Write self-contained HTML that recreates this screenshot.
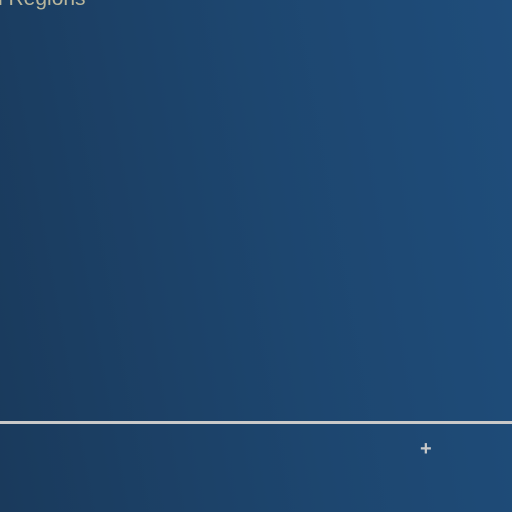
<!DOCTYPE html>
<html><head><meta charset="utf-8"><style>
html,body{margin:0;padding:0;width:512px;height:512px;overflow:hidden}
#bg{position:absolute;left:0;top:0;width:512px;height:512px;background:linear-gradient(80deg,#1a3a5c 0%,#1d466f 55%,#1f4d7b 100%)}
#title{position:absolute;left:-9px;top:-13px;font:21px "Liberation Sans",sans-serif;color:#b9b69c;white-space:nowrap}
#axis{position:absolute;left:0;top:421px;width:512px;height:3px;background:#c9c9c9}
#plus{position:absolute;left:420px;top:438px;font:bold 20px "Liberation Sans",sans-serif;color:#c9c9c9}
</style></head><body>
<div id="bg"></div>
<div id="title">n Regions</div>
<div id="axis"></div>
<div id="plus">+</div>
</body></html>
